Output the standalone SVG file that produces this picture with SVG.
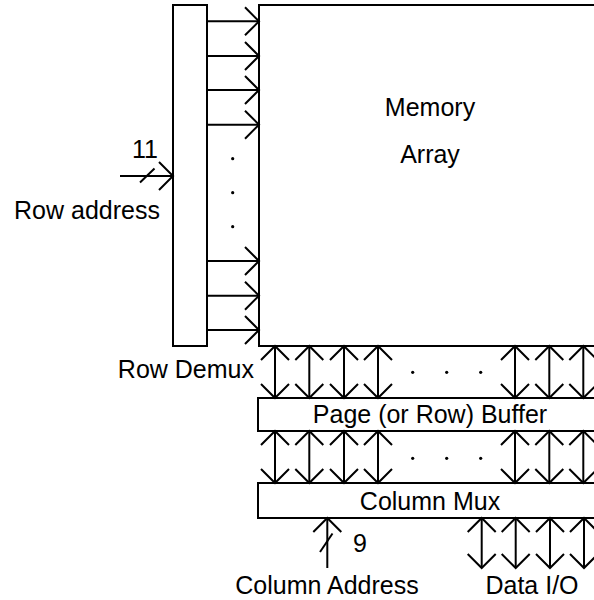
<svg xmlns="http://www.w3.org/2000/svg" width="594" height="600" viewBox="0 0 594 600">
<style>
.box{fill:#fff;stroke:#000;stroke-width:2}
.ln{stroke:#000;stroke-width:2;fill:none}
.uni{marker-end:url(#ah)}
.bi{marker-end:url(#ah);marker-start:url(#ah)}
text{font-family:"Liberation Sans",Arial,sans-serif;font-size:25px;fill:#000}
.c{text-anchor:middle}
.dot{fill:#000}
</style>
<defs>
<marker id="ah" markerUnits="userSpaceOnUse" markerWidth="32" markerHeight="32" viewBox="-16 -16 32 32" refX="0" refY="0" orient="auto-start-reverse" overflow="visible">
<path d="M-14,-14 L0,0 L-14,14" fill="none" stroke="#000" stroke-width="2"/>
</marker>
</defs>
<rect width="594" height="600" fill="#fff"/>
<g id="memory-array">
<rect class="box" x="259" y="5" width="345" height="341"/>
<text class="c" x="430" y="116">Memory</text>
<text class="c" x="430" y="163">Array</text>
</g>
<g id="row-demux">
<rect class="box" x="173" y="5" width="34" height="341"/>
<text x="254" y="378" text-anchor="end">Row Demux</text>
</g>
<g id="page-buffer">
<rect class="box" x="258" y="398" width="346" height="33"/>
<text class="c" x="430" y="423">Page (or Row) Buffer</text>
</g>
<g id="column-mux">
<rect class="box" x="258" y="483" width="346" height="35"/>
<text class="c" x="430" y="510">Column Mux</text>
</g>
<g id="row-address">
<text class="c" x="87" y="219">Row address</text>
<text class="c" x="145" y="158">11</text>
</g>
<g id="column-address">
<text class="c" x="327" y="594">Column Address</text>
<text x="353" y="552">9</text>
</g>
<g id="data-io">
<text class="c" x="532" y="594">Data I/O</text>
</g>
<g id="connectors">
<line class="ln uni" x1="120" y1="176" x2="173" y2="176"/>
<line class="ln" x1="140" y1="182.5" x2="154.5" y2="168.5"/>
<line class="ln uni" x1="207" y1="21.3" x2="259" y2="21.3"/>
<line class="ln uni" x1="207" y1="56" x2="259" y2="56"/>
<line class="ln uni" x1="207" y1="90" x2="259" y2="90"/>
<line class="ln uni" x1="207" y1="124.7" x2="259" y2="124.7"/>
<line class="ln uni" x1="207" y1="261" x2="259" y2="261"/>
<line class="ln uni" x1="207" y1="295.7" x2="259" y2="295.7"/>
<line class="ln uni" x1="207" y1="330" x2="259" y2="330"/>
<circle class="dot" cx="232.7" cy="158.7" r="1.6"/>
<circle class="dot" cx="232.7" cy="192.7" r="1.6"/>
<circle class="dot" cx="232.7" cy="226.7" r="1.6"/>
<line class="ln bi" x1="275" y1="346" x2="275" y2="398"/>
<line class="ln bi" x1="309.3" y1="346" x2="309.3" y2="398"/>
<line class="ln bi" x1="344" y1="346" x2="344" y2="398"/>
<line class="ln bi" x1="378" y1="346" x2="378" y2="398"/>
<line class="ln bi" x1="515" y1="346" x2="515" y2="398"/>
<line class="ln bi" x1="549.3" y1="346" x2="549.3" y2="398"/>
<line class="ln bi" x1="583.3" y1="346" x2="583.3" y2="398"/>
<circle class="dot" cx="412.7" cy="372.3" r="1.6"/>
<circle class="dot" cx="446.7" cy="372.3" r="1.6"/>
<circle class="dot" cx="480.7" cy="372.3" r="1.6"/>
<line class="ln bi" x1="275" y1="431" x2="275" y2="483"/>
<line class="ln bi" x1="309.3" y1="431" x2="309.3" y2="483"/>
<line class="ln bi" x1="344" y1="431" x2="344" y2="483"/>
<line class="ln bi" x1="378" y1="431" x2="378" y2="483"/>
<line class="ln bi" x1="515" y1="431" x2="515" y2="483"/>
<line class="ln bi" x1="549.3" y1="431" x2="549.3" y2="483"/>
<line class="ln bi" x1="583.3" y1="431" x2="583.3" y2="483"/>
<circle class="dot" cx="412.7" cy="458.3" r="1.6"/>
<circle class="dot" cx="446.7" cy="458.3" r="1.6"/>
<circle class="dot" cx="480.7" cy="458.3" r="1.6"/>
<line class="ln uni" x1="327.3" y1="568" x2="327.3" y2="518"/>
<line class="ln" x1="320" y1="552" x2="332.5" y2="533.5"/>
<line class="ln bi" x1="481.7" y1="518" x2="481.7" y2="568"/>
<line class="ln bi" x1="515.7" y1="518" x2="515.7" y2="568"/>
<line class="ln bi" x1="550" y1="518" x2="550" y2="568"/>
<line class="ln bi" x1="584" y1="518" x2="584" y2="568"/>
</g>
</svg>
